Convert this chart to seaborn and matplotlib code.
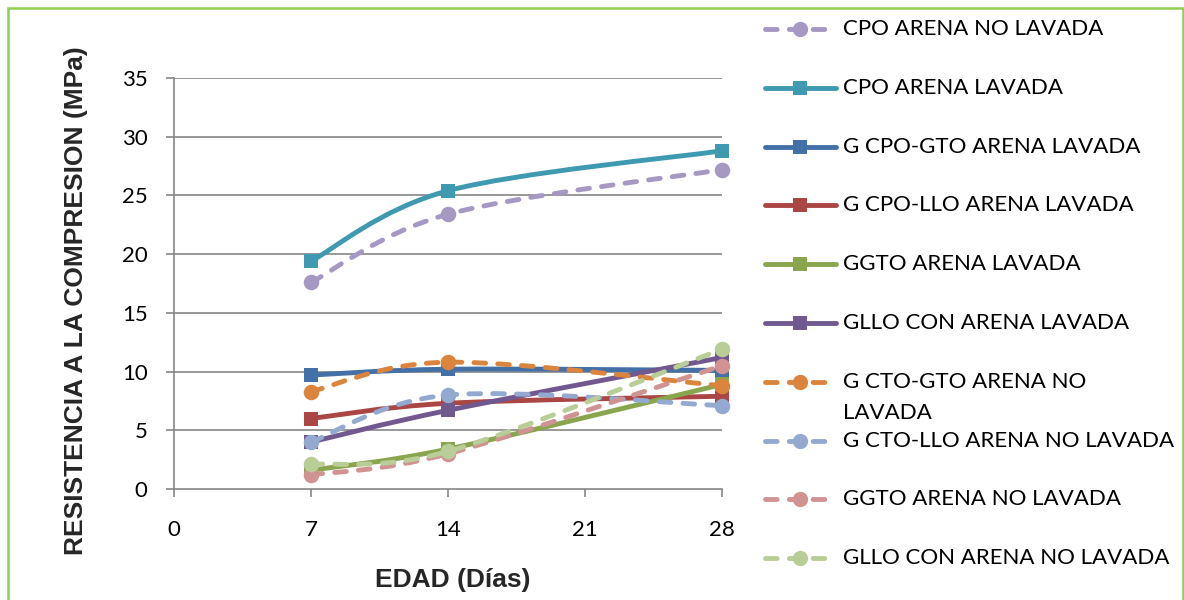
import numpy as np
import pandas as pd
import matplotlib
matplotlib.use("Agg")
import matplotlib.pyplot as plt
import seaborn as sns
from matplotlib.path import Path
from matplotlib.patches import PathPatch, Rectangle
from matplotlib.lines import Line2D

# ---------------- data ----------------
edad = [7, 14, 28]
x_ticks = [0, 7, 14, 21, 28]
y_ticks = [0, 5, 10, 15, 20, 25, 30, 35]

series_names = [
    "CPO ARENA NO LAVADA",
    "CPO ARENA LAVADA",
    "G CPO-GTO ARENA LAVADA",
    "G CPO-LLO ARENA LAVADA",
    "GGTO ARENA LAVADA",
    "GLLO CON ARENA LAVADA",
    "G CTO-GTO ARENA NO\nLAVADA",
    "G CTO-LLO ARENA NO LAVADA",
    "GGTO ARENA NO LAVADA",
    "GLLO CON ARENA NO LAVADA",
]
cpo_no_lavada = [17.6, 23.4, 27.2]
cpo_lavada = [19.4, 25.4, 28.8]
g_cpo_gto_lavada = [9.7, 10.2, 10.1]
g_cpo_llo_lavada = [6.0, 7.3, 7.9]
ggto_lavada = [1.6, 3.4, 8.9]
gllo_lavada = [4.0, 6.7, 11.2]
g_cto_gto_no_lavada = [8.3, 10.8, 8.8]
g_cto_llo_no_lavada = [4.0, 8.0, 7.1]
ggto_no_lavada = [1.2, 3.0, 10.5]
gllo_no_lavada = [2.1, 3.2, 11.9]

values = [cpo_no_lavada, cpo_lavada, g_cpo_gto_lavada, g_cpo_llo_lavada,
          ggto_lavada, gllo_lavada, g_cto_gto_no_lavada, g_cto_llo_no_lavada,
          ggto_no_lavada, gllo_no_lavada]

colors = ["#A598C2", "#3F99B1", "#4470A8", "#AA4643", "#89A54E",
          "#71588F", "#DB843D", "#93A9CF", "#D19392", "#B9CD96"]
dashed = [True, False, False, False, False, False, True, True, True, True]
markers = ["o", "s", "s", "s", "s", "s", "o", "o", "o", "o"]

# ---------------- style ----------------
sns.set_theme(style="white")
plt.rcParams["font.family"] = ["Lato", "DejaVu Sans"]

W, H = 1184, 600
fig = plt.figure(figsize=(W / 100, H / 100), dpi=100)
ax = fig.add_axes([174 / W, 1 - 489 / H, (722 - 174) / W, (489 - 78) / H])

LW = 3.5
DASH = (0, (2.4, 2.5))
GRID = "#868686"


def smooth_path(xs, ys):
    pts = np.column_stack([xs, ys]).astype(float)
    n = len(pts)
    verts = [pts[0]]
    codes = [Path.MOVETO]
    for i in range(n - 1):
        p0 = pts[max(i - 1, 0)]
        p1 = pts[i]
        p2 = pts[i + 1]
        p3 = pts[min(i + 2, n - 1)]
        c1 = p1 + (p2 - p0) / 6.0
        c2 = p2 - (p3 - p1) / 6.0
        verts += [c1, c2, p2]
        codes += [Path.CURVE4] * 3
    return Path(verts, codes)


for k, (name, vals) in enumerate(zip(series_names, values)):
    col = colors[k]
    patch = PathPatch(smooth_path(edad, vals), fill=False, edgecolor=col,
                      lw=LW, linestyle=DASH if dashed[k] else "-",
                      capstyle="round", joinstyle="round", zorder=3 + 2 * k)
    ax.add_patch(patch)
    df = pd.DataFrame({"edad": edad, "val": vals})
    size = 125 if markers[k] == "o" else 110
    sns.scatterplot(data=df, x="edad", y="val", ax=ax, color=col,
                    marker=markers[k], s=size, linewidth=0, legend=False,
                    zorder=4 + 2 * k, clip_on=False)

ax.set_xlim(0, 28)
ax.set_ylim(0, 35)
ax.set_xticks(x_ticks)
ax.set_yticks(y_ticks)
ax.set_xticklabels([str(t) for t in x_ticks])
ax.set_yticklabels([str(t) for t in y_ticks])

for s in ["top", "right"]:
    ax.spines[s].set_visible(False)
for s in ["left", "bottom"]:
    ax.spines[s].set_color(GRID)
    ax.spines[s].set_linewidth(1.2)
ax.grid(False)
for t in y_ticks[1:]:
    ax.axhline(t, color=GRID, lw=1.2, zorder=1)

ax.tick_params(axis="both", which="major", direction="out", length=6,
               width=1.2, color=GRID, labelsize=16, labelcolor="black")
ax.tick_params(axis="y", pad=13)
ax.tick_params(axis="x", pad=16)
ax.tick_params(left=True, bottom=True)

ax.set_xlabel("EDAD (Días)", fontsize=19, fontweight="bold",
              family=["Liberation Sans", "DejaVu Sans"])
ax.set_ylabel("RESISTENCIA A LA COMPRESION (MPa)", fontsize=19,
              fontweight="bold", family=["Liberation Sans", "DejaVu Sans"])
ax.xaxis.set_label_coords((453 - 174) / 548, (489 - 568) / 411)
ax.yaxis.set_label_coords((88 - 174) / 548, (489 - 301) / 411)

# ---------------- legend (drawn at Excel-like positions) ----------------
row_y = [29 + 58.8 * i for i in range(len(series_names))]
for k, name in enumerate(series_names):
    yy = 1 - row_y[k] / H
    xs = [765 / W, 800 / W, 836 / W]
    ln = Line2D(xs, [yy] * 3, transform=fig.transFigure, color=colors[k],
                lw=LW, linestyle=DASH if dashed[k] else "-",
                marker=markers[k], markevery=[1],
                markersize=11 if markers[k] == "o" else 10.5,
                markeredgewidth=0, dash_capstyle="round",
                solid_capstyle="round")
    fig.add_artist(ln)
    lines = name.split("\n")
    for j, txt in enumerate(lines):
        fig.text(843 / W, 1 - (row_y[k] + 31 * j) / H, txt, fontsize=16,
                 va="center", ha="left", color="black")

# ---------------- green chart border ----------------
fig.add_artist(Rectangle((8 / W, -0.05), (1182.5 - 8) / W, 1 - 8 / H + 0.05,
                         transform=fig.transFigure, fill=False,
                         edgecolor="#92D050", lw=1.8))

fig.savefig("out.png", dpi=100)
